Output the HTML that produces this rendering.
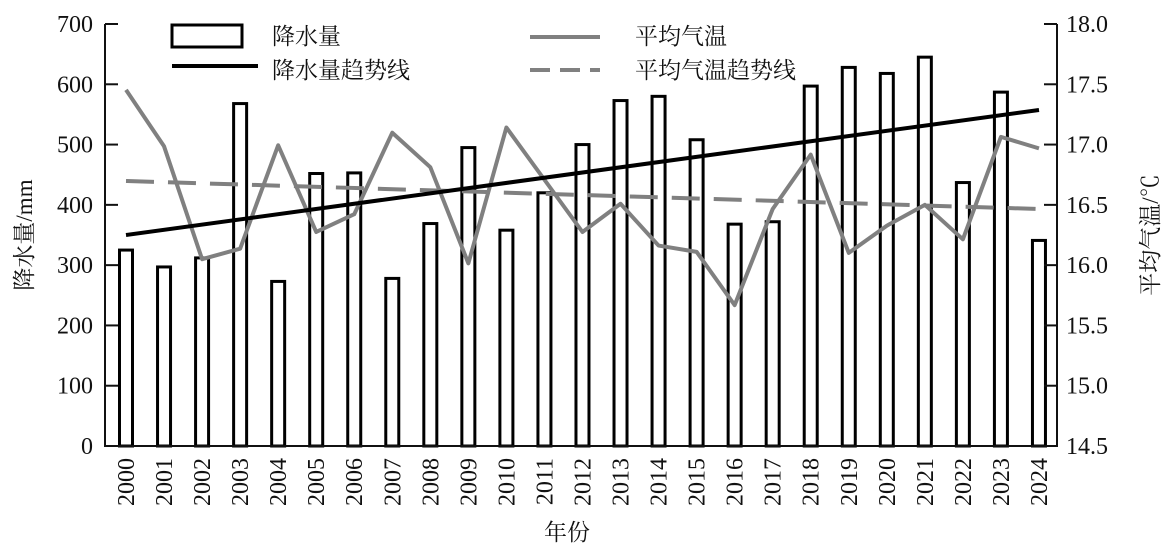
<!DOCTYPE html>
<html><head><meta charset="utf-8"><style>
body{margin:0;background:#fff}
svg text{font-family:"Liberation Serif","Noto Serif CJK SC",serif;fill:#111}
</style></head><body>
<svg width="1164" height="546" xmlns="http://www.w3.org/2000/svg">
<g id="bars" fill="#fff" stroke="#000" stroke-width="3"></g>
<g stroke="#111" stroke-width="2" fill="none">
<path d="M105,24 V446 H1057 V24"/>
</g>
<g id="ticks" stroke="#111" stroke-width="2"></g>
<g id="lbl" font-size="24"></g>
<polyline id="temp" fill="none" stroke="#808080" stroke-width="4" stroke-linejoin="round"/>
<line x1="126" y1="181" x2="1039" y2="209" stroke="#808080" stroke-width="4" stroke-dasharray="28,14"/>
<line x1="126" y1="235" x2="1039" y2="110" stroke="#000" stroke-width="4"/>
<rect x="172" y="25" width="70" height="22" fill="#fff" stroke="#000" stroke-width="3"/>
<line x1="172" y1="66" x2="258" y2="66" stroke="#000" stroke-width="4"/>
<line x1="530" y1="37" x2="600" y2="37" stroke="#808080" stroke-width="4"/>
<line x1="530" y1="70" x2="600" y2="70" stroke="#808080" stroke-width="4" stroke-dasharray="20,10"/>
<g font-size="23">
<text x="272" y="44">降水量</text>
<text x="272" y="78">降水量趋势线</text>
<text x="635" y="44">平均气温</text>
<text x="635" y="78">平均气温趋势线</text>
<text x="567" y="540" text-anchor="middle">年份</text>
<text transform="translate(32,235) rotate(-90)" text-anchor="middle">降水量/mm</text>
<text transform="translate(1158,235) rotate(-90)" text-anchor="middle">平均气温/℃</text>
</g>
</svg>
<script>
const vals=[325,297,312,568,273,452,453,278,369,495,358,420,500,573,580,508,368,372,597,628,618,645,437,587,341];
const ty0=[86,140,248,238,139,222,205,127,160,252,122,172,222,195,235,241,292,200,148,242,216,196,229,131,142];
const ns="http://www.w3.org/2000/svg";
function el(t,a,p,txt){const e=document.createElementNS(ns,t);for(const k in a)e.setAttribute(k,a[k]);if(txt!=null)e.textContent=txt;document.getElementById(p).appendChild(e);return e;}
const sc=422/700;let pts=[];
vals.forEach((v,i)=>{const cx=126+i*38.04;const h=v*sc;
el('rect',{x:cx-6.5,y:446-h,width:13,height:h},'bars');
el('text',{transform:`translate(${cx+8},${458}) rotate(-90)`,'text-anchor':'end'},'lbl',2000+i);
pts.push(cx+','+(ty0[i]*1.045));});
document.getElementById('temp').setAttribute('points',pts.join(' '));
for(let k=0;k<=7;k++){const y=446-k*100*sc;
el('line',{x1:105,y1:y,x2:118,y2:y},'ticks');
el('text',{x:93,y:y+8,'text-anchor':'end'},'lbl',k*100);
el('line',{x1:1044,y1:y,x2:1057,y2:y},'ticks');
el('text',{x:1066,y:y+8},'lbl',(14.5+k*0.5).toFixed(1));}
</script>
</body></html>
